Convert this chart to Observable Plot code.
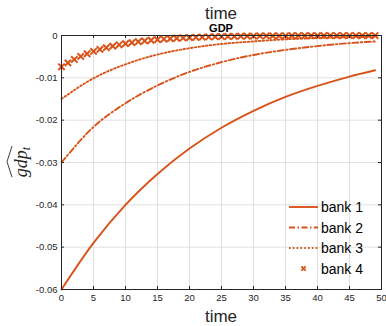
<!DOCTYPE html>
<html><head><meta charset="utf-8">
<script src="https://cdn.jsdelivr.net/npm/d3@7"></script>
<script src="https://cdn.jsdelivr.net/npm/@observablehq/plot@0.6"></script>
<style>body{margin:0;background:#fff} svg{display:block}</style>
</head><body><div id="c"></div>
<script>
const seriesNames = ["bank 1", "bank 2", "bank 3", "bank 4"];
const lineTimes = [0, 5, 10, 15, 20, 25, 30, 35, 40, 45, 49];
const bank1 = [-0.0600, -0.0490, -0.0400, -0.0327, -0.0267, -0.0218, -0.0178, -0.0145, -0.0119, -0.0097, -0.0082];
const bank2 = [-0.0300, -0.0216, -0.0160, -0.0118, -0.0086, -0.0063, -0.0046, -0.0034, -0.0025, -0.0018, -0.0014];
const bank3 = [-0.0150, -0.0101, -0.0068, -0.0045, -0.0030, -0.0020, -0.0014, -0.0009, -0.0006, -0.0004, -0.0003];
// bank 4: one marker per period t = 0..49
const bank4 = [-0.0074, -0.00647, -0.00565, -0.00494, -0.00431, -0.00377, -0.00329, -0.00288, -0.00251, -0.00220,
  -0.00192, -0.00168, -0.00146, -0.00128, -0.00112, -0.00098, -0.00085, -0.00074, -0.00065, -0.00057,
  -0.00050, -0.00043, -0.00038, -0.00033, -0.00029, -0.00025, -0.00022, -0.00019, -0.00017, -0.00015,
  -0.00013, -0.00011, -0.00010, -0.00009, -0.00008, -0.00007, -0.00006, -0.00005, -0.00004, -0.00004,
  -0.00003, -0.00003, -0.00002, -0.00002, -0.00002, -0.00002, -0.00001, -0.00001, -0.00001, -0.00001];
const xTicks = [0, 5, 10, 15, 20, 25, 30, 35, 40, 45, 50];
const yTicks = [-0.06, -0.05, -0.04, -0.03, -0.02, -0.01, 0];
const titleText = "time";
const subtitleText = "GDP";
const xLabelText = "time";

const W = 386, H = 326, mL = 61, mR = 5, mT = 35, mB = 37;
const pw = W - mL - mR, ph = H - mT - mB;
const color = "#D95319";
const ink = "#262626";
const styles = [
  {strokeDasharray: null},
  {strokeDasharray: "6,2.5,1.5,2.5"},
  {strokeDasharray: "1.6,2.2"}
];
const lineData = [bank1, bank2, bank3].map((vals, k) => vals.map((v, i) => ({t: lineTimes[i], v, s: seriesNames[k]})));
const dotData = bank4.map((v, i) => ({t: i, v}));

const plot = Plot.plot({
  width: W, height: H, marginLeft: mL, marginRight: mR, marginTop: mT, marginBottom: mB,
  style: {fontFamily: "'Liberation Sans', Arial, sans-serif", fontSize: "9.5px", color: ink, background: "white"},
  x: {domain: [0, 50]},
  y: {domain: [-0.06, 0]},
  marks: [
    Plot.gridX({ticks: xTicks, stroke: "#e0e0e0", strokeOpacity: 1}),
    Plot.gridY({ticks: yTicks, stroke: "#e0e0e0", strokeOpacity: 1}),
    ...lineData.map((d, k) => Plot.line(d, {x: "t", y: "v", stroke: color, strokeWidth: 1.9, curve: "monotone-x", strokeDasharray: styles[k].strokeDasharray})),
    Plot.dot(dotData, {x: "t", y: "v", symbol: "times", r: 3, stroke: color, strokeWidth: 2}),
    Plot.frame({stroke: ink, strokeWidth: 1}),
    Plot.tickX(xTicks, {x: d => d, stroke: ink, insetTop: ph - 3}),
    Plot.tickX(xTicks, {x: d => d, stroke: ink, insetBottom: ph - 3}),
    Plot.tickY(yTicks, {y: d => d, stroke: ink, insetRight: pw - 3}),
    Plot.tickY(yTicks, {y: d => d, stroke: ink, insetLeft: pw - 3}),
    Plot.axisX({ticks: xTicks, tickSize: 0, tickPadding: 5, tickFormat: d => String(d), label: null}),
    Plot.axisY({ticks: yTicks, tickSize: 0, tickPadding: 4, tickFormat: d => d === 0 ? "0" : d.toFixed(2), label: null})
  ]
});
document.getElementById("c").appendChild(plot);

const svg = d3.select(plot);
const cx = mL + pw / 2;
svg.append("text").attr("x", cx).attr("y", 19).attr("text-anchor", "middle")
  .attr("font-size", 17).attr("fill", ink).text(titleText);
svg.append("text").attr("x", cx).attr("y", 31.5).attr("text-anchor", "middle")
  .attr("font-size", 11).attr("font-weight", "bold").attr("fill", "#000").text(subtitleText);
svg.append("text").attr("x", cx).attr("y", 322).attr("text-anchor", "middle")
  .attr("font-size", 17).attr("fill", ink).text(xLabelText);

// y label: hat over gdp_t
const yl = svg.append("g").attr("transform", `translate(27,${mT + ph / 2}) rotate(-90)`);
const yt = yl.append("text").attr("text-anchor", "middle").attr("fill", ink)
  .attr("font-family", "'Liberation Serif', 'DejaVu Serif', serif").attr("font-style", "italic");
yt.append("tspan").attr("font-size", 18).text("gdp");
yt.append("tspan").attr("font-size", 12).attr("dy", 3).text("t");
const bb = yt.node().getBBox();
yl.append("path").attr("fill", "none").attr("stroke", ink).attr("stroke-width", 0.9)
  .attr("d", `M${bb.x},-15 L${bb.x + bb.width / 2},-20 L${bb.x + bb.width},-15`);

// legend
const legend = svg.append("g").attr("font-family", "'Liberation Sans', Arial, sans-serif")
  .attr("font-size", 14).attr("text-anchor", "start");
seriesNames.forEach((name, k) => {
  const y = 207 + k * 20.5;
  if (k < 3) {
    legend.append("line").attr("x1", 289).attr("x2", 318).attr("y1", y).attr("y2", y)
      .attr("stroke", color).attr("stroke-width", 1.9).attr("stroke-dasharray", styles[k].strokeDasharray);
  } else {
    legend.append("path").attr("transform", `translate(303.5,${y})`)
      .attr("d", d3.symbol(d3.symbolTimes, 14)()).attr("fill", "none").attr("stroke", color).attr("stroke-width", 1.8);
  }
  legend.append("text").attr("x", 321).attr("y", y).attr("dy", "0.36em")
    .attr("text-anchor", "start").attr("fill", "#000").text(name);
});
</script>
</body></html>
